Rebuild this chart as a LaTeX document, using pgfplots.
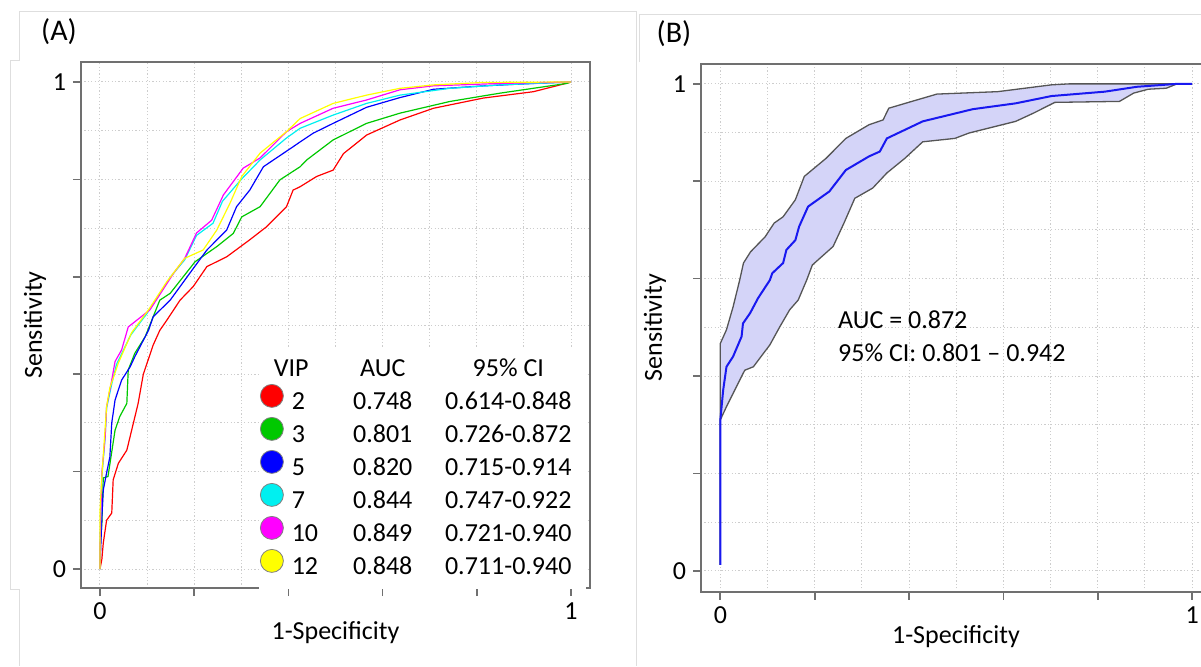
\documentclass[border=0pt]{standalone}
\usepackage{fontspec}
\setmainfont{Carlito}
\usepackage{pgfplots}
\pgfplotsset{compat=1.18}

\definecolor{axgray}{RGB}{112,112,112}
\definecolor{gridgray}{RGB}{205,205,205}
\definecolor{framegray}{RGB}{222,222,222}
\definecolor{cRed}{RGB}{255,0,0}
\definecolor{cGreen}{RGB}{0,200,0}
\definecolor{cBlue}{RGB}{0,0,255}
\definecolor{cCyan}{RGB}{0,240,240}
\definecolor{cMag}{RGB}{255,0,255}
\definecolor{cYel}{RGB}{255,255,0}
\definecolor{lav}{RGB}{212,212,248}
\definecolor{ciGray}{RGB}{85,85,85}
\definecolor{lineBlue}{RGB}{25,25,240}

\newcommand{\fs}{\fontsize{13}{15.6}\selectfont}

\pgfplotsset{
  rocstyle/.style={
    scale only axis,
    xtick={0,0.2,0.4,0.6,0.8,1},
    ytick={0,0.2,0.4,0.6,0.8,1},
    xticklabels={0,,,,,1},
    yticklabels={0,,,,,1},
    minor tick num=1,
    grid=both,
    major grid style={gridgray, line width=0.5pt, dash pattern=on 0.6pt off 1.1pt},
    minor grid style={gridgray, line width=0.5pt, dash pattern=on 0.6pt off 1.1pt},
    minor tick length=0pt,
    major tick length=4pt,
    tick align=outside,
    tick pos=left,
    axis line style={axgray, line width=0.85pt},
    major tick style={axgray, line width=0.85pt},
    ticklabel style={font=\fs},
    /pgf/number format/assume math mode=true,
    xlabel={1-Specificity},
    ylabel={Sensitivity},
    label style={font=\fs},
    xlabel style={at={(axis description cs:0.5,0)}, anchor=center, yshift=-22.5pt},
    ylabel style={at={(axis description cs:-0.0904,0.5)}, anchor=center},
  }
}

\begin{document}
\begin{tikzpicture}
\useasboundingbox (0,0) rectangle (600.5pt,333pt);

\begin{scope}[shift={(0pt,333pt)}, x=0.5pt, y=-0.5pt]
  \draw[framegray, line width=0.5pt] (19,12) -- (636.5,12);
  \draw[framegray, line width=0.5pt] (19,12) -- (19,60) -- (10,60) -- (10,589) -- (19,589) -- (19,666);
  \draw[framegray, line width=0.5pt] (636.5,12) -- (636.5,666);
  \draw[framegray, line width=0.5pt] (639,62) -- (639,15) -- (1201,15);
  \node[font=\fontsize{15}{18}\selectfont, inner sep=0pt] at (59,32) {(A)};
  \node[font=\fontsize{15}{18}\selectfont, inner sep=0pt] at (674,34) {(B)};
\end{scope}

% ---------------- Panel A ----------------
\begin{axis}[rocstyle,
  at={(40.5pt,39pt)}, anchor=south west,
  width=254.5pt, height=263pt,
  xmin=-0.0403, xmax=1.0403, ymin=-0.039, ymax=1.041,
  legend cell align=left,
  legend image code/.code={\draw[#1, fill, draw=gray, line width=0.4pt] (6.5pt,0.35em) circle (5.75pt);},
  legend style={at={(axis cs:0.3365,0.4538)}, anchor=north west,
    draw=none, fill=white, inner xsep=0pt, inner ysep=4pt,
    font=\fs, row sep=0.3pt, column sep=4pt,
    nodes={inner sep=0pt, text height=10pt, text depth=3.5pt}},
]
\addlegendimage{empty legend}
\addlegendentry{\makebox[21.5pt][l]{\hspace*{-9pt}VIP}\makebox[48pt][c]{AUC}\makebox[77.5pt][c]{95\% CI}}

\addplot[cRed, line width=0.6pt] coordinates {
(0,0) (0.004,0.02) (0.007,0.053) (0.014,0.10) (0.025,0.115) (0.028,0.183)
(0.039,0.217) (0.057,0.244) (0.071,0.30) (0.081,0.34) (0.092,0.40) (0.113,0.46)
(0.127,0.49) (0.142,0.511) (0.170,0.552) (0.198,0.580) (0.227,0.621) (0.269,0.641)
(0.318,0.676) (0.354,0.703) (0.396,0.744) (0.410,0.778) (0.425,0.785) (0.460,0.806)
(0.495,0.819) (0.517,0.853) (0.552,0.880) (0.566,0.891) (0.637,0.922) (0.708,0.946)
(0.814,0.967) (0.92,0.980) (0.977,0.994) (1,1)};
\addlegendentry{\makebox[21.5pt][l]{2}\makebox[48pt][c]{0.748}\makebox[77.5pt][c]{0.614-0.848}}

\addplot[cGreen, line width=0.6pt] coordinates {
(0,0) (0,0.04) (0.004,0.094) (0.007,0.187) (0.017,0.19) (0.032,0.285) (0.042,0.313)
(0.057,0.34) (0.060,0.409) (0.074,0.443) (0.096,0.477) (0.127,0.552) (0.149,0.566)
(0.202,0.631) (0.248,0.662) (0.283,0.689) (0.301,0.723) (0.340,0.744) (0.382,0.799)
(0.425,0.826) (0.439,0.840) (0.495,0.881) (0.566,0.915) (0.637,0.936) (0.743,0.960)
(0.849,0.977) (0.92,0.987) (0.991,0.997) (1,1)};
\addlegendentry{\makebox[21.5pt][l]{3}\makebox[48pt][c]{0.801}\makebox[77.5pt][c]{0.726-0.872}}

\addplot[cBlue, line width=0.6pt] coordinates {
(0,0) (0.004,0.107) (0.007,0.162) (0.014,0.197) (0.021,0.230) (0.025,0.30) (0.032,0.347)
(0.046,0.388) (0.064,0.415) (0.074,0.436) (0.103,0.49) (0.113,0.518) (0.149,0.552)
(0.198,0.617) (0.227,0.655) (0.269,0.696) (0.290,0.744) (0.318,0.778) (0.347,0.826)
(0.410,0.867) (0.425,0.877) (0.453,0.895) (0.495,0.915) (0.566,0.948) (0.637,0.968)
(0.708,0.985) (0.814,0.992) (0.92,0.997) (1,1)};
\addlegendentry{\makebox[21.5pt][l]{5}\makebox[48pt][c]{0.820}\makebox[77.5pt][c]{0.715-0.914}}

\addplot[cCyan, line width=0.6pt] coordinates {
(0,0) (0,0.05) (0.004,0.19) (0.011,0.27) (0.014,0.33) (0.025,0.38) (0.035,0.42)
(0.05,0.45) (0.065,0.48) (0.1,0.525) (0.15,0.60) (0.18,0.635) (0.205,0.685)
(0.24,0.71) (0.26,0.755) (0.30,0.80) (0.34,0.84) (0.396,0.885) (0.425,0.905)
(0.495,0.932) (0.566,0.956) (0.637,0.973) (0.743,0.987) (0.849,0.994) (1,1)};
\addlegendentry{\makebox[21.5pt][l]{7}\makebox[48pt][c]{0.844}\makebox[77.5pt][c]{0.747-0.922}}

\addplot[cMag, line width=0.6pt] coordinates {
(0,0) (0,0.046) (0.004,0.197) (0.011,0.272) (0.014,0.333) (0.025,0.388) (0.032,0.426)
(0.046,0.45) (0.060,0.497) (0.106,0.532) (0.156,0.607) (0.180,0.638) (0.205,0.690)
(0.237,0.716) (0.262,0.768) (0.304,0.823) (0.340,0.844) (0.396,0.898) (0.425,0.915)
(0.495,0.946) (0.566,0.963) (0.637,0.984) (0.707,0.992) (0.849,0.997) (1,1)};
\addlegendentry{\makebox[21.5pt][l]{10}\makebox[48pt][c]{0.849}\makebox[77.5pt][c]{0.721-0.940}}

\addplot[cYel, line width=0.6pt] coordinates {
(0,0) (0,0.12) (0.004,0.19) (0.014,0.333) (0.021,0.372) (0.039,0.423) (0.067,0.485)
(0.103,0.532) (0.142,0.590) (0.180,0.638) (0.219,0.655) (0.248,0.696) (0.276,0.751)
(0.301,0.806) (0.340,0.854) (0.396,0.898) (0.425,0.925) (0.495,0.956) (0.566,0.973)
(0.637,0.987) (0.708,0.994) (0.814,0.999) (1,1)};
\addlegendentry{\makebox[21.5pt][l]{12}\makebox[48pt][c]{0.848}\makebox[77.5pt][c]{0.711-0.940}}
\end{axis}

% ---------------- Panel B ----------------
\begin{axis}[rocstyle,
  at={(350.5pt,37.15pt)}, anchor=south west,
  width=255pt, height=263.9pt,
  xmin=-0.041, xmax=1.04, ymin=-0.043, ymax=1.041,
]
% confidence band: upper bound then lower bound reversed
\addplot[fill=lav, draw=none] coordinates {
(0,0.012) (0,0.31) (0,0.467) (0.013,0.495) (0.027,0.542) (0.041,0.597) (0.049,0.632)
(0.064,0.655) (0.095,0.686) (0.114,0.714) (0.133,0.727) (0.159,0.762) (0.178,0.810)
(0.224,0.847) (0.266,0.888) (0.315,0.916) (0.345,0.926) (0.357,0.950) (0.406,0.964)
(0.459,0.979) (0.588,0.984) (0.702,0.998) (0.740,1.0) (1.0,1.0)
(0.968,1.0) (0.945,0.991) (0.907,0.989) (0.876,0.981) (0.846,0.964) (0.709,0.962)
(0.664,0.940) (0.626,0.923) (0.527,0.899) (0.497,0.888) (0.429,0.881) (0.391,0.847)
(0.353,0.817) (0.323,0.786) (0.285,0.765) (0.262,0.714) (0.239,0.666) (0.195,0.628)
(0.183,0.597) (0.165,0.556) (0.147,0.536) (0.126,0.501) (0.105,0.464) (0.070,0.419)
(0.052,0.412) (0.048,0.405) (0.027,0.364) (0.013,0.337) (0,0.31) (0,0.012)} -- cycle;

\addplot[ciGray, line width=0.65pt] coordinates {
(0,0.012) (0,0.31) (0,0.467) (0.013,0.495) (0.027,0.542) (0.041,0.597) (0.049,0.632)
(0.064,0.655) (0.095,0.686) (0.114,0.714) (0.133,0.727) (0.159,0.762) (0.178,0.810)
(0.224,0.847) (0.266,0.888) (0.315,0.916) (0.345,0.926) (0.357,0.950) (0.406,0.964)
(0.459,0.979) (0.588,0.984) (0.702,0.998) (0.740,1.0) (1.0,1.0)};
\addplot[ciGray, line width=0.65pt] coordinates {
(0,0.012) (0,0.31) (0.013,0.337) (0.027,0.364) (0.048,0.405) (0.052,0.412) (0.070,0.419)
(0.105,0.464) (0.126,0.501) (0.147,0.536) (0.165,0.556) (0.183,0.597) (0.195,0.628)
(0.239,0.666) (0.262,0.714) (0.285,0.765) (0.323,0.786) (0.353,0.817) (0.391,0.847)
(0.429,0.881) (0.497,0.888) (0.527,0.899) (0.626,0.923) (0.664,0.940) (0.709,0.962)
(0.846,0.964) (0.876,0.981) (0.907,0.989) (0.945,0.991) (0.968,1.0) (1.0,1.0)};
\addplot[lineBlue, line width=1pt] coordinates {
(0,0.012) (0,0.31) (0.006,0.371) (0.013,0.419) (0.027,0.44) (0.045,0.481) (0.048,0.508)
(0.063,0.529) (0.080,0.560) (0.105,0.597) (0.110,0.611) (0.133,0.632) (0.140,0.659)
(0.159,0.679) (0.167,0.707) (0.186,0.748) (0.231,0.779) (0.266,0.823) (0.315,0.851)
(0.338,0.861) (0.353,0.888) (0.429,0.923) (0.535,0.948) (0.626,0.960) (0.702,0.975)
(0.815,0.984) (0.883,0.994) (0.968,1.0) (1.0,1.0)};

\node[anchor=west, inner sep=0pt, font=\fs] at (axis cs:0.249,0.515) {AUC = 0.872};
\node[anchor=west, inner sep=0pt, font=\fs] at (axis cs:0.249,0.447) {95\% CI: 0.801 -- 0.942};
\end{axis}
\end{tikzpicture}
\end{document}
